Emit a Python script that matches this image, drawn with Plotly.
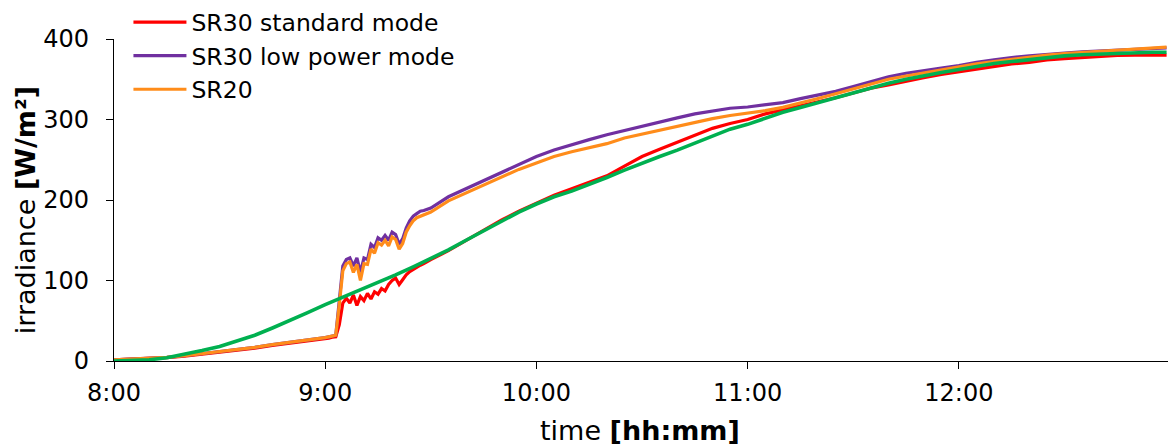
import plotly.graph_objects as go

# time in minutes after 8:00
minutes = [0, 5, 10, 15, 20, 25, 30, 35, 40, 45, 50, 55, 60,
           61, 62, 63, 64, 65, 66, 67, 68, 69, 70, 71, 72, 73, 74, 75, 76, 77, 78, 79, 80,
           81, 82, 83, 84, 85, 86, 87, 88, 89, 90,
           95, 100, 105, 110, 115, 120, 125, 130, 135, 140, 145, 150, 155, 160, 165, 170,
           175, 180, 185, 190, 195, 200, 205, 210, 215, 220, 225, 230, 235, 240, 245, 250,
           255, 260, 265, 270, 275, 280, 285, 290, 295, 299]

sr30_standard = [1.5, 2.3, 3.0, 4.2, 6.0, 8.3, 10.8, 13.5, 16.0, 19.2, 21.8, 24.6, 27.5,
                 28.5, 29.5, 30, 45, 72, 78, 72, 82, 69, 80, 75, 84, 77, 86, 83, 90, 87, 95, 100, 103,
                 95, 101, 107, 111, 114, 117, 119, 121, 123, 126,
                 137, 150, 163, 175, 186, 196, 206, 214, 222, 230, 242, 254, 263, 272, 281, 289,
                 295, 300, 307, 312, 316, 322, 327, 333, 339, 343, 348, 352, 356, 359, 363, 366,
                 369, 371, 374, 375.5, 377, 378, 379.5, 380, 380.5, 380]

sr30_low_power = [1.5, 2.5, 3.3, 4.6, 6.5, 9.0, 11.5, 14.4, 17.0, 20.4, 23.0, 26.0, 29.0,
                  30, 31, 32, 75, 118, 126, 128, 118, 128, 110, 128, 126, 145, 141, 153, 150, 156, 150, 160, 157,
                  145, 152, 165, 174, 180, 183, 186, 187, 189, 190,
                  204, 214, 224, 235, 245, 254, 262, 269, 275, 281, 286, 292, 297, 302, 307, 311,
                  314, 315.5, 318, 321, 326, 330, 335, 341, 347, 353, 357.5, 361, 364, 367, 371, 374,
                  377, 379, 381, 382.5, 384, 385, 386.5, 387.5, 388.5, 389]

sr20 = [1.5, 2.5, 3.3, 4.6, 6.5, 9.0, 11.5, 14.4, 17.0, 20.4, 23.0, 26.0, 29.0,
        30, 31, 32, 70, 112, 121, 123, 110, 120, 100, 121, 120, 139, 134, 147, 144, 150, 143, 154, 151,
        139, 146, 160, 168, 174, 178, 180, 182, 184, 185,
        199, 209, 219, 229, 238, 246, 254, 260, 265, 270, 277, 282, 286, 291, 296, 301,
        305, 308, 311, 315, 320, 326, 332, 338, 344, 350, 354, 358, 362, 365, 369, 372,
        375, 377, 380, 382, 383.5, 384.5, 386, 387.5, 389, 390]

minutes_ref = [0, 5, 10, 15, 20, 25, 30, 35, 40, 45, 50, 55, 60, 65, 70, 75, 80, 85, 90,
               95, 100, 105, 110, 115, 120, 125, 130, 135, 140, 145, 150, 155, 160, 165, 170,
               175, 180, 185, 190, 195, 200, 205, 210, 215, 220, 225, 230, 235, 240, 245, 250,
               255, 260, 265, 270, 275, 280, 285, 290, 295, 299]
reference = [0, 0.5, 1.5, 4, 8, 13, 18, 25, 32, 41, 50, 60, 70, 79, 88, 97, 107, 117, 127,
             138, 150, 162, 173, 185, 195, 204, 211, 219, 228, 237, 246, 254, 262, 271, 280,
             288, 294, 302, 309, 315, 321, 327, 333, 339.5, 345, 350, 354.5, 358.5, 362, 366, 369.5,
             372, 374.5, 377, 379, 380.5, 381.5, 382.5, 383, 383.5, 383.5]

tick_vals = [0, 60, 120, 180, 240]
tick_text = ["8:00", "9:00", "10:00", "11:00", "12:00"]
y_ticks = [0, 100, 200, 300, 400]

FONT = "DejaVu Sans"
LW = 3.2

fig = go.Figure()
fig.add_trace(go.Scatter(x=minutes, y=sr30_standard, mode="lines", name="SR30 standard mode",
                         line=dict(color="#FF0000", width=LW), legendgroup="a"))
fig.add_trace(go.Scatter(x=minutes, y=sr30_low_power, mode="lines", name="SR30 low power mode",
                         line=dict(color="#7030A0", width=LW), legendgroup="b"))
fig.add_trace(go.Scatter(x=minutes, y=sr20, mode="lines", name="SR20",
                         line=dict(color="#FF8C1A", width=LW), legendgroup="c"))
fig.add_trace(go.Scatter(x=minutes_ref, y=reference, mode="lines", name="reference",
                         line=dict(color="#00B050", width=3.6), showlegend=False))

fig.update_layout(
    width=1168, height=445,
    margin=dict(l=114, r=0, t=33, b=84),
    paper_bgcolor="white", plot_bgcolor="white",
    font=dict(family=FONT, size=24, color="black"),
    showlegend=True,
    legend=dict(x=0.0137, y=1.12, xanchor="left", yanchor="top",
                bgcolor="rgba(0,0,0,0)", font=dict(size=23.5, family=FONT),
                tracegroupgap=0, itemwidth=53),
    xaxis=dict(range=[0, 299.4], tickvals=tick_vals, ticktext=tick_text,
               showline=True, linecolor="black", linewidth=1.2, ticks="outside",
               ticklen=7, tickcolor="black", showgrid=False, zeroline=False,
               tickfont=dict(size=24), ticklabelstandoff=3),
    yaxis=dict(range=[0, 400], tickvals=y_ticks, showline=True, linecolor="black",
               linewidth=1.2, ticks="outside", ticklen=7, tickcolor="black",
               showgrid=False, zeroline=False, tickfont=dict(size=24), ticklabelstandoff=12),
    annotations=[
        dict(text="irradiance <b>[W/m²]</b>", xref="paper", yref="paper",
             x=-0.0845, y=0.468, xanchor="center", yanchor="middle", textangle=-90,
             showarrow=False, font=dict(size=27, family=FONT)),
        dict(text="time <b>[hh:mm]</b>", xref="paper", yref="paper",
             x=0.499, y=-0.2165, xanchor="center", yanchor="middle",
             showarrow=False, font=dict(size=27, family=FONT)),
    ],
)

fig.write_html("out.html", config={"displayModeBar": False},
               post_script="document.body.style.margin='0';document.body.style.padding='0';")
